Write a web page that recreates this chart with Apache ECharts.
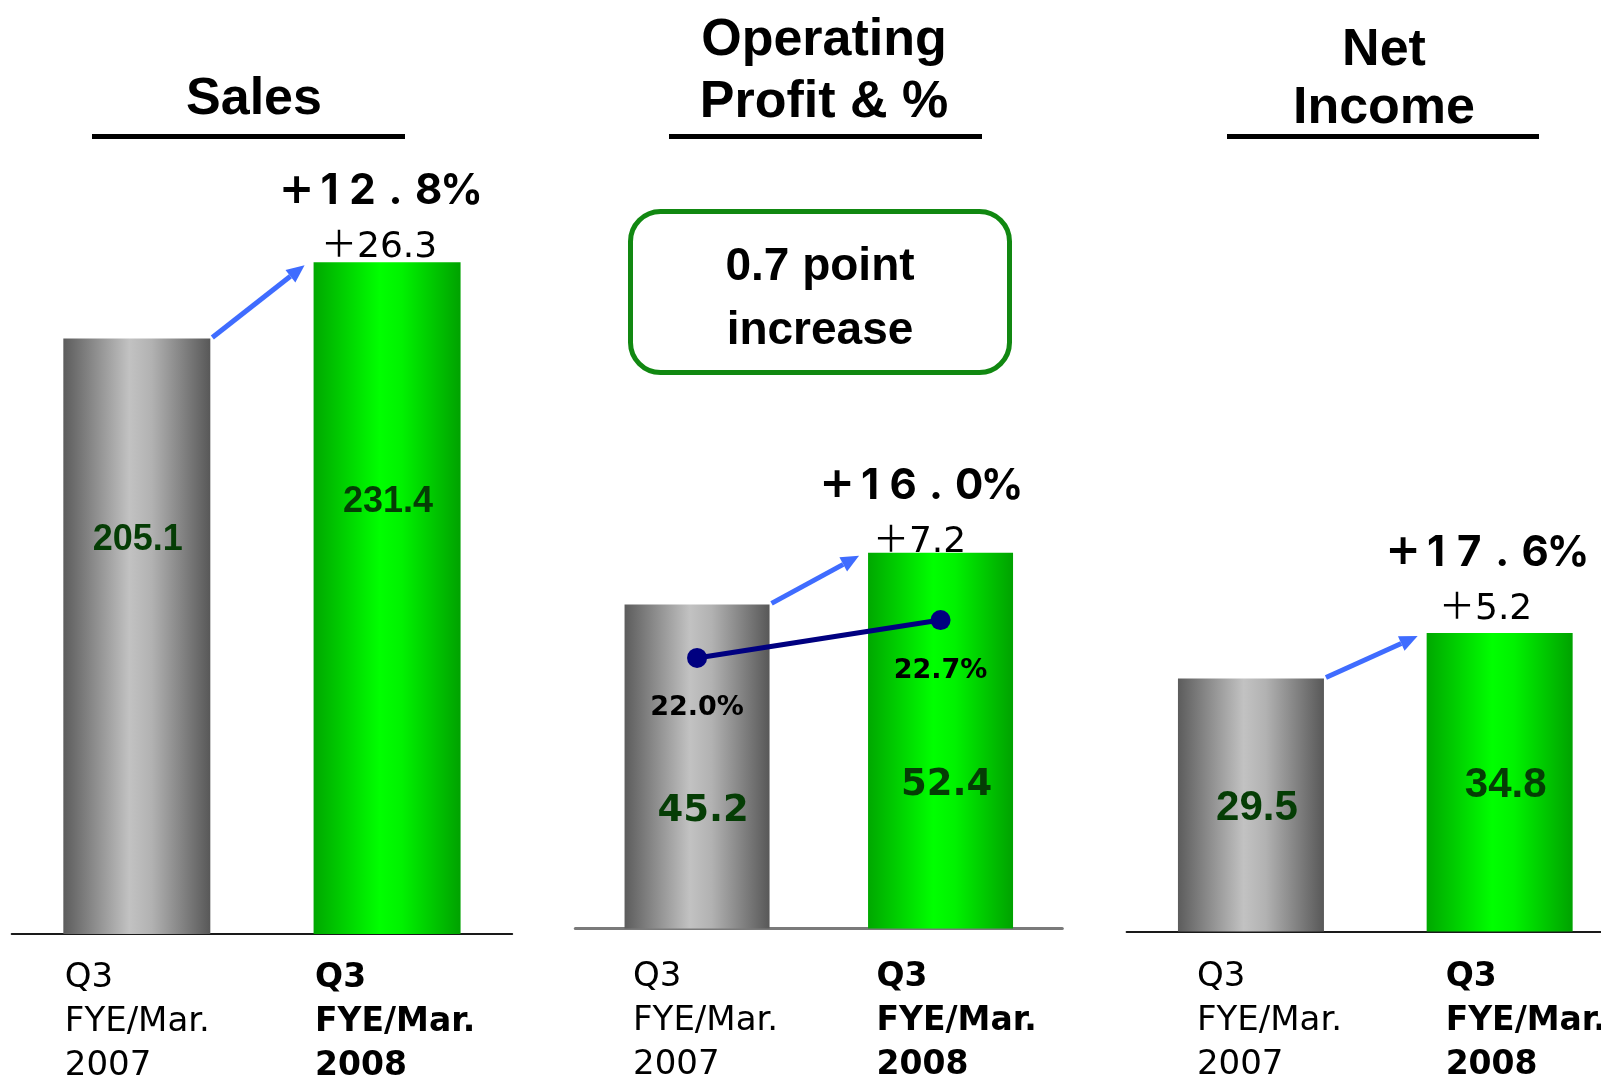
<!DOCTYPE html>
<html>
<head>
<meta charset="utf-8">
<script src="https://cdn.jsdelivr.net/npm/echarts@6/dist/echarts.min.js"></script>
<style>
  html, body { margin: 0; padding: 0; background: #ffffff; }
  #chart { width: 1601px; height: 1077px; }
</style>
</head>
<body>
<div id="chart"></div>
<script>
// ---- Figures (billions of yen), Q3 cumulative ----
const categories = ['Q3\nFYE/Mar.\n2007', 'Q3\nFYE/Mar.\n2008'];
const salesValues = [205.1, 231.4];
const opProfitValues = [45.2, 52.4];
const opMarginValues = [22.0, 22.7];
const netIncomeValues = [29.5, 34.8];

const panelTitles = ['Sales', 'Operating\nProfit & %', 'Net\nIncome'];
const growthPct = ['+12.8%', '+16.0%', '+17.6%'];
const growthAbs = ['＋26.3', '＋7.2', '＋5.2'];
const marginNote = '0.7 point\nincrease';

// ---- Styling ----
const ARROW = '#3f6cff';
const VALUE_COLOR = '#053d05';
const grayFill = new echarts.graphic.LinearGradient(0, 0, 1, 0, [
  { offset: 0, color: '#5c5c5c' },
  { offset: 0.45, color: '#c2c2c2' },
  { offset: 0.6, color: '#b2b2b2' },
  { offset: 1, color: '#585858' }
]);
const greenFill = new echarts.graphic.LinearGradient(0, 0, 1, 0, [
  { offset: 0, color: '#00a800' },
  { offset: 0.45, color: '#00ff00' },
  { offset: 0.6, color: '#00f200' },
  { offset: 1, color: '#00a200' }
]);

const panels = [
  {
    values: salesValues,
    grid: { left: 11.7, top: 63, width: 500.5, height: 871 },
    max: 300, barWidth: 147, axisColor: '#1a1a1a', axisWidth: 2,
    labelMargin: 22, labelBox: 144,
    valueFont: { fontFamily: 'Liberation Sans', fontSize: 36 },
    valueOffset: [1, -96], growthOffset: [-8, 14]
  },
  {
    values: opProfitValues,
    grid: { left: 575.3, top: 211.5, width: 487, height: 717 },
    max: 100, barWidth: 145, axisColor: '#7a7a7a', axisWidth: 3,
    labelMargin: 27, labelBox: 128,
    valueFont: { fontFamily: 'DejaVu Sans', fontSize: 37 },
    valueOffset: [6, 45], growthOffset: [-21, 18]
  },
  {
    values: netIncomeValues,
    grid: { left: 1126.6, top: 74, width: 497.4, height: 857.5 },
    max: 100, barWidth: 146, axisColor: '#1a1a1a', axisWidth: 2,
    labelMargin: 24, labelBox: 108,
    valueFont: { fontFamily: 'Liberation Sans', fontSize: 42 },
    valueOffset: [6, 3], growthOffset: [-14, 5]
  }
];

function categoryLabel(box, margin) {
  return {
    show: true,
    interval: 0,
    margin: margin,
    align: 'center',
    verticalAlign: 'top',
    formatter: function (value, index) {
      const tag = index === 1 ? 'b' : 'r';
      return value.split('\n').map(function (l) { return '{' + tag + '|' + l + '}'; }).join('\n');
    },
    rich: {
      r: { fontFamily: 'DejaVu Sans', fontSize: 34, lineHeight: 44, width: box, align: 'left', color: '#000' },
      b: { fontFamily: 'DejaVu Sans', fontWeight: 'bold', fontSize: 33, lineHeight: 44, width: box, align: 'left', color: '#000' }
    }
  };
}

// growth rate is set in even-width cells, one per character
function growthLabel(k) {
  const pctLine = growthPct[k].split('').map(function (c) {
    return '{' + (c === '+' ? 'pl' : 'g') + '|' + c + '}';
  }).join('');
  return pctLine + '\n{a|' + growthAbs[k] + '}';
}

const grids = panels.map(function (p) {
  return Object.assign({ containLabel: false, outerBoundsMode: 'none' }, p.grid);
});

const xAxes = panels.map(function (p, k) {
  return {
    type: 'category', gridIndex: k, data: categories,
    axisTick: { show: false },
    axisLine: { show: true, lineStyle: { color: p.axisColor, width: p.axisWidth } },
    axisLabel: categoryLabel(p.labelBox, p.labelMargin),
    splitLine: { show: false }
  };
});

const yAxes = panels.map(function (p, k) {
  return { type: 'value', gridIndex: k, min: 0, max: p.max, show: false, splitLine: { show: false } };
});
// operating margin scale shares the middle panel
yAxes.push({ type: 'value', gridIndex: 1, min: 17, max: 30.25, show: false, splitLine: { show: false } });

const series = panels.map(function (p, k) {
  return {
    type: 'bar', xAxisIndex: k, yAxisIndex: k,
    barWidth: p.barWidth,
    data: p.values.map(function (v, i) {
      return { value: v, itemStyle: { color: i === 0 ? grayFill : greenFill } };
    }),
    label: {
      show: true, position: 'inside', offset: p.valueOffset,
      formatter: function (d) { return d.value.toFixed(1); },
      fontFamily: p.valueFont.fontFamily, fontSize: p.valueFont.fontSize,
      fontWeight: 'bold', color: VALUE_COLOR
    },
    markPoint: {
      silent: true,
      symbol: 'circle', symbolSize: 1,
      itemStyle: { color: 'rgba(0,0,0,0)' },
      data: [{ coord: [1, p.values[1]] }],
      label: {
        show: true, position: 'top', distance: 0, offset: p.growthOffset,
        formatter: function () { return growthLabel(k); },
        rich: {
          pl: { width: 33, align: 'center', fontFamily: 'DejaVu Sans', fontWeight: 'bold', fontSize: 42, lineHeight: 56, color: '#000' },
          g: { width: 33, align: 'center', fontFamily: 'Inter', fontWeight: 'bold', fontSize: 42, lineHeight: 56, color: '#000' },
          a: { fontFamily: 'DejaVu Sans, Noto Sans CJK JP', fontSize: 36, lineHeight: 56, color: '#000' }
        }
      }
    }
  };
});

series.push({
  type: 'line', xAxisIndex: 1, yAxisIndex: 3,
  data: opMarginValues,
  symbol: 'circle', symbolSize: 20,
  lineStyle: { color: '#000080', width: 5 },
  itemStyle: { color: '#000080' },
  label: {
    show: true, position: 'bottom', distance: 27,
    formatter: function (d) { return d.value.toFixed(1) + '%'; },
    fontFamily: 'DejaVu Sans', fontWeight: 'bold', fontSize: 27, color: '#000'
  },
  z: 5
});

const chart = echarts.init(document.getElementById('chart'), null, { renderer: 'canvas' });
chart.setOption({
  animation: false,
  backgroundColor: '#ffffff',
  grid: grids,
  xAxis: xAxes,
  yAxis: yAxes,
  series: series
});

// ---- Headings, underlines, note box and growth arrows ----
const TITLE_FONT = 'bold 52px "Liberation Sans", Arial, sans-serif';
const titleLayout = [
  { x: 254, y: 100, lineHeight: 60, rule: [92, 405] },
  { x: 824, y: 72, lineHeight: 62, rule: [669, 982] },
  { x: 1384, y: 80, lineHeight: 58, rule: [1227, 1539] }
];

const graphics = [];
titleLayout.forEach(function (t, k) {
  graphics.push({
    type: 'text', silent: true,
    style: {
      text: panelTitles[k], x: t.x, y: t.y, font: TITLE_FONT, fill: '#000',
      textAlign: 'center', textVerticalAlign: 'middle', lineHeight: t.lineHeight
    }
  });
  graphics.push({
    type: 'line', silent: true,
    shape: { x1: t.rule[0], y1: 136.5, x2: t.rule[1], y2: 136.5 },
    style: { stroke: '#000', lineWidth: 5 }
  });
});

graphics.push({
  type: 'rect', silent: true,
  shape: { x: 630.5, y: 211.5, width: 379, height: 161, r: 30 },
  style: { fill: 'rgba(0,0,0,0)', stroke: '#118811', lineWidth: 5 }
});
graphics.push({
  type: 'text', silent: true,
  style: {
    text: marginNote, x: 820, y: 299, font: 'bold 46px "Liberation Sans", Arial, sans-serif',
    fill: '#000', textAlign: 'center', textVerticalAlign: 'middle', lineHeight: 64
  }
});

panels.forEach(function (p, k) {
  const a = chart.convertToPixel({ xAxisIndex: k, yAxisIndex: k }, [0, p.values[0]]);
  const b = chart.convertToPixel({ xAxisIndex: k, yAxisIndex: k }, [1, p.values[1]]);
  const half = p.barWidth / 2;
  const sx = a[0] + half + 2, sy = a[1] - 1;
  const ex = b[0] - half - 9, ey = b[1] + 3;
  const ang = Math.atan2(ey - sy, ex - sx);
  const L = 18, W = 8;
  const bx = ex - L * Math.cos(ang), by = ey - L * Math.sin(ang);
  const nx = -Math.sin(ang) * W, ny = Math.cos(ang) * W;
  graphics.push({
    type: 'line', silent: true,
    shape: { x1: sx, y1: sy, x2: bx, y2: by },
    style: { stroke: ARROW, lineWidth: 5 }
  });
  graphics.push({
    type: 'polygon', silent: true,
    shape: { points: [[ex, ey], [bx + nx, by + ny], [bx - nx, by - ny]] },
    style: { fill: ARROW }
  });
});

chart.setOption({ graphic: graphics });
</script>
</body>
</html>
